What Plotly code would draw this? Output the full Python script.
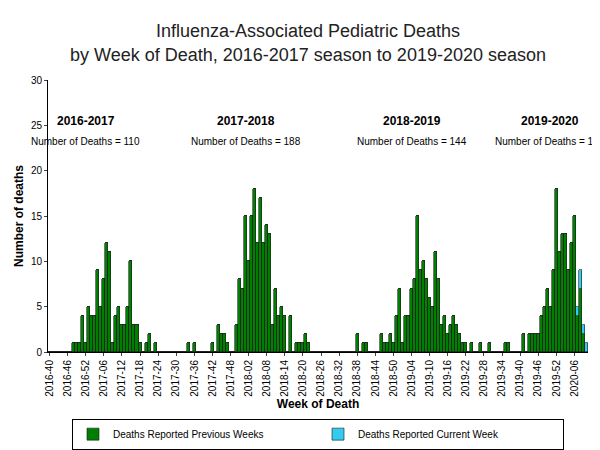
import plotly.graph_objects as go

# weekly death counts by calendar year
y2016 = [0, 0, 0, 0, 0, 0, 0, 0, 1, 1, 1, 4, 1]  # weeks 40-52
y2017 = [5, 4, 4, 9, 5, 8, 12, 11, 1, 4, 5, 3, 3, 5, 10, 3, 3, 1, 0, 1, 2, 0, 1,
         0, 0, 0, 0, 0, 0, 0, 0, 0, 0, 1, 0, 1, 0, 0, 0, 0, 0,
         1, 0, 3, 2, 2, 1, 0, 0, 3, 8, 7]
y2018 = [15, 10, 15, 18, 12, 17, 12, 14, 13, 3, 7, 4, 5, 4, 0, 4, 0, 1, 1, 1, 2, 1,
         0, 0, 0, 0, 0, 0, 0, 0, 0, 0, 0, 0, 0, 0, 0,
         2, 0, 1, 1, 0, 0, 0, 0, 2, 1, 1, 2, 1, 4, 7]
y2019 = [1, 4, 4, 7, 8, 15, 9, 10, 8, 6, 5, 11, 8, 3, 4, 2, 3, 4, 3, 2, 1, 1, 0, 1,
         0, 0, 1, 0, 0, 1, 0, 0, 0, 0, 1, 1, 0, 0, 0, 0,
         2, 0, 2, 2, 2, 2, 4, 5, 7, 5, 9, 18]
y2020_prev = [11, 13, 13, 9, 12, 15, 4, 7, 2, 0]
y2020_curr = [0, 0, 0, 0, 0, 0, 1, 2, 1, 1]

seasons = ["2016-2017", "2017-2018", "2018-2019", "2019-2020"]
season_totals = [110, 188, 144, 149]
season_label_weeks = ["2016-52", "2018-01", "2019-04", "2019-50"]

weeks = []
prev = []
for yr, vals, start in [(2016, y2016, 40), (2017, y2017, 1), (2018, y2018, 1),
                        (2019, y2019, 1), (2020, y2020_prev, 1)]:
    for i, v in enumerate(vals):
        weeks.append(f"{yr}-{start + i:02d}")
        prev.append(v)
curr = [0] * (len(weeks) - len(y2020_curr)) + y2020_curr

fig = go.Figure()
fig.add_trace(go.Bar(x=weeks, y=prev, name="Deaths Reported Previous Weeks",
                     marker=dict(color="#008000", line=dict(color="#1a1a1a", width=0.6))))
fig.add_trace(go.Bar(x=weeks, y=curr, name="Deaths Reported Current Week",
                     marker=dict(color="#33ccee", line=dict(color="#1a1a1a", width=0.6))))

for s, tot, wk in zip(seasons, season_totals, season_label_weeks):
    fig.add_annotation(x=wk, y=25.5, text=f"<b>{s}</b>", showarrow=False,
                       font=dict(size=12, color="black"))
    fig.add_annotation(x=wk, y=23.2, text=f"Number of Deaths = {tot}", showarrow=False,
                       font=dict(size=10, color="black"))

fig.update_layout(
    barmode="stack", bargap=0,
    width=600, height=450,
    margin=dict(l=40, r=20, t=72, b=106, autoexpand=False),
    plot_bgcolor="white", paper_bgcolor="white",
    font=dict(family="Arial, Liberation Sans", color="black"),
    title=dict(text="Influenza-Associated Pediatric Deaths<br>by Week of Death, 2016-2017 season to 2019-2020 season",
               x=0.5, y=0.935, yanchor="middle", font=dict(size=18, color="#222")),
    legend=dict(orientation="h", x=0.5, xanchor="center", y=-0.245, yanchor="top",
                bordercolor="black", borderwidth=1, font=dict(size=10),
                entrywidth=200, traceorder="normal"),
)
fig.update_xaxes(type="category", tickvals=weeks[::6], tickangle=-90,
                 tickfont=dict(size=10), ticks="outside", ticklen=3, automargin=False,
                 showline=True, linecolor="black", range=[-0.5, len(weeks) - 0.5],
                 title=dict(text="<b>Week of Death</b>", font=dict(size=12), standoff=2))
fig.update_yaxes(range=[0, 30], dtick=5, showgrid=False, showline=True, linecolor="black",
                 ticks="outside", ticklen=3, tickfont=dict(size=10), zeroline=False,
                 automargin=False,
                 title=dict(text="<b>Number of deaths</b>", font=dict(size=12), standoff=4))

fig.write_html("out.html")
